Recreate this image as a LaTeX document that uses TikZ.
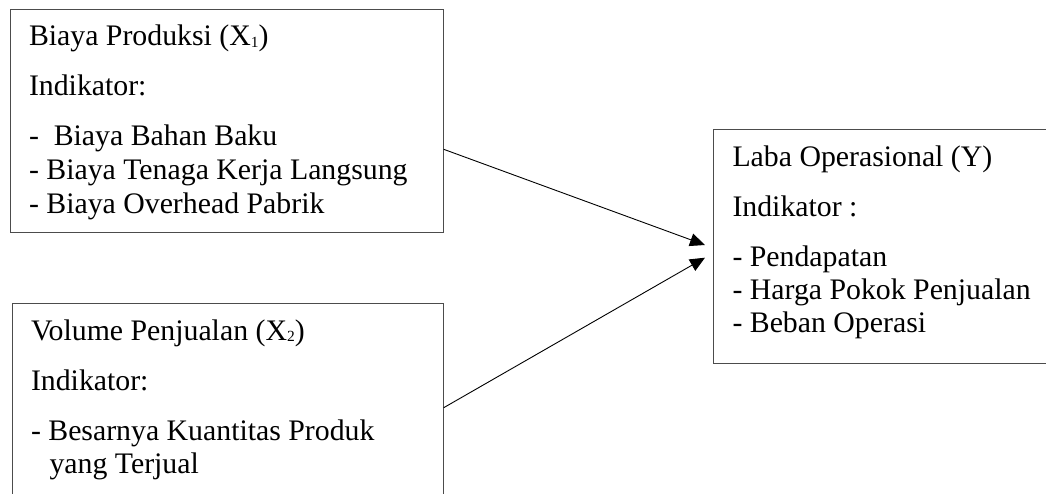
\documentclass[tikz,border=0pt]{standalone}
\usepackage{fontspec}
\setmainfont{Liberation Serif}
\usetikzlibrary{arrows.meta,calc}

% small, slightly lowered index digit
\newcommand{\lowidx}[1]{\raisebox{-1.5pt}{\fontsize{15.5}{16}\selectfont #1}}

\tikzset{
  varbox/.style={draw=black!70, line width=1pt, rectangle, inner sep=0pt,
                 anchor=north west, fill=none},
  txt/.style={anchor=base west, inner sep=0pt, outer sep=0pt,
              font=\fontsize{29.8}{34}\selectfont},
  link/.style={line width=0.9pt, -{Triangle[length=15pt, width=13pt]}},
}

\begin{document}
\begin{tikzpicture}[x=1pt, y=-1pt]
  \useasboundingbox (0,0) rectangle (1046,493);
  \clip (0,0) rectangle (1046,493);

  % independent variable X1
  \node[varbox, minimum width=433.2pt, minimum height=222.4pt] (b1) at (9.5,9.3) {};
  \node[txt] (b1a) at (29,45.7) {Biaya Produksi (X\lowidx{1})};
  \node[txt] (b1b) at (29,95)   {Indikator:};
  \node[txt] (b1c) at (29,145)  {-\ \ Biaya Bahan Baku};
  \node[txt] (b1d) at (29,179)  {- Biaya Tenaga Kerja Langsung};
  \node[txt] (b1e) at (29,213)  {- Biaya Overhead Pabrik};

  % independent variable X2
  \node[varbox, minimum width=431.2pt, minimum height=220pt] (b2) at (11.5,303.3) {};
  \node[txt] (b2a) at (31,340)  {Volume Penjualan (X\lowidx{2})};
  \node[txt] (b2b) at (31,390)  {Indikator:};
  \node[txt] (b2c) at (31,440)  {- Besarnya Kuantitas Produk};
  \node[txt] (b2d) at (49.5,473)  {yang Terjual};

  % dependent variable Y
  \node[varbox, minimum width=360pt, minimum height=234pt] (b3) at (713.3,129.3) {};
  \node[txt] (b3a) at (732.5,166)   {Laba Operasional (Y)};
  \node[txt] (b3b) at (732.5,216)   {Indikator :};
  \node[txt] (b3c) at (732.5,266)   {- Pendapatan};
  \node[txt] (b3d) at (732.5,299)   {- Harga Pokok Penjualan};
  \node[txt] (b3e) at (732.5,332)   {- Beban Operasi};

  % connector end points
  \coordinate (s1) at ($(b1.north east)+(0,140)$);
  \coordinate (s2) at ($(b2.north east)+(0,104.4)$);
  \coordinate (t1) at ($(b3.north west)+(-8.3,115.7)$);
  \coordinate (t2) at ($(b3.north west)+(-8.3,128.4)$);

  \draw[link] (s1) -- (t1);
  \draw[link] (s2) -- (t2);
\end{tikzpicture}
\end{document}
